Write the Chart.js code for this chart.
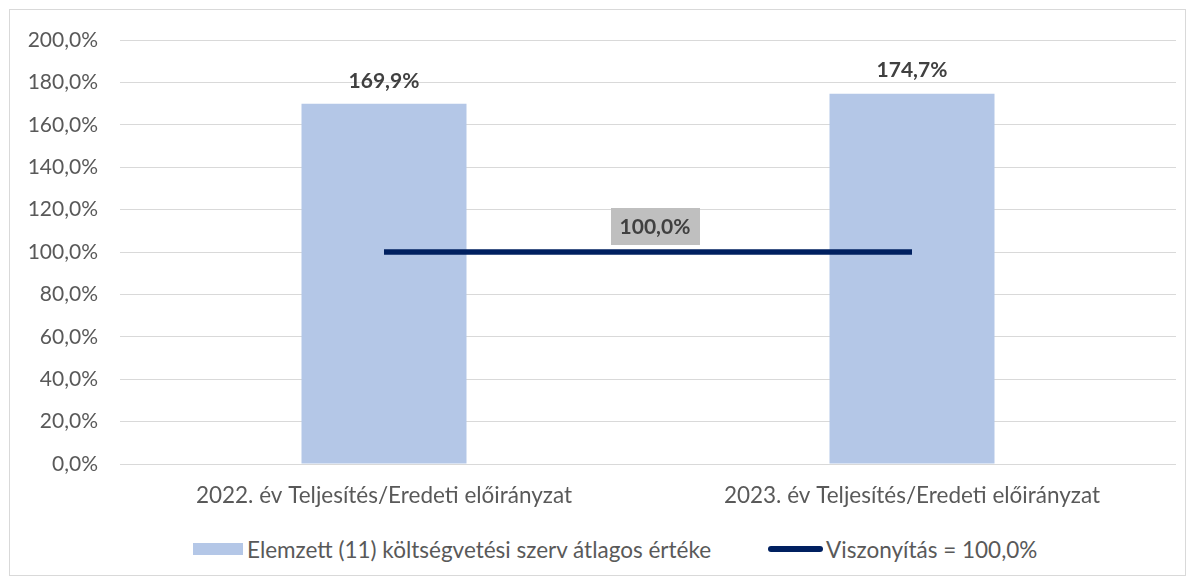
<!DOCTYPE html>
<html lang="hu">
<head>
<meta charset="UTF-8">
<title>Teljesítés / Eredeti előirányzat</title>
<script src="https://cdn.jsdelivr.net/npm/chart.js@4"></script>
<style>
  body { margin: 0; background: #fff; font-family: Lato, sans-serif; }
  /* külső keret, mint az Excel diagramterület */
  .keret {
    position: absolute; left: 9px; top: 9px;
    width: 1177px; height: 567px;
    border: 1px solid #D9D9D9; box-sizing: border-box;
  }
  .rajz { position: absolute; left: 0; top: 0; width: 1175px; height: 520px; }
  /* jelmagyarázat alul */
  .jelmagyarazat {
    position: absolute; left: 183px; top: 528px; height: 22px;
    display: flex; align-items: center;
    font-size: 22.5px; color: #595959; white-space: nowrap;
  }
  .doboz { width: 50px; height: 12px; background: #B4C7E7; margin-right: 4px; }
  .vonal { width: 55px; height: 6px; background: #002060; border-radius: 3px; margin-left: 57px; margin-right: 3px; }
</style>
</head>
<body>
<div class="keret">
  <div class="rajz"><canvas id="diagram"></canvas></div>
  <div class="jelmagyarazat">
    <span class="doboz"></span><span id="felirat0"></span>
    <span class="vonal"></span><span id="felirat1"></span>
  </div>
</div>

<script>
// Adatok
const kategoriak = ['2022. év Teljesítés/Eredeti előirányzat', '2023. év Teljesítés/Eredeti előirányzat'];
const atlagErtekek = [169.9, 174.7];
const viszonyitas = [100, 100];
const sorozatNevek = ['Elemzett (11) költségvetési szerv átlagos értéke', 'Viszonyítás = 100,0%'];
const yMin = 0, yMax = 200, yLepes = 20;

const BETU = 'Lato, sans-serif';
const szurke = '#595959';

document.getElementById('felirat0').textContent = sorozatNevek[0];
document.getElementById('felirat1').textContent = sorozatNevek[1];

function szazalek(v) {
  return v.toFixed(1).replace('.', ',') + '%';
}

// Adatcímkék kirajzolása
const cimkek = {
  id: 'cimkek',
  afterDatasetsDraw(chart) {
    const ctx = chart.ctx;
    ctx.save();
    ctx.font = 'bold 21px ' + BETU;
    ctx.textAlign = 'center';
    ctx.textBaseline = 'middle';

    // oszlopok felett
    ctx.fillStyle = '#404040';
    chart.getDatasetMeta(0).data.forEach((oszlop, i) => {
      ctx.fillText(szazalek(atlagErtekek[i]), oszlop.x, oszlop.y - 23);
    });

    // viszonyítási vonal címkéje szürke háttérrel
    const pontok = chart.getDatasetMeta(1).data;
    const kx = (pontok[0].x + pontok[pontok.length - 1].x) / 2 + 7;
    const ky = pontok[0].y - 8 - 18;
    ctx.fillStyle = '#BFBFBF';
    ctx.fillRect(kx - 44, ky - 18, 89, 37);
    ctx.fillStyle = '#404040';
    ctx.fillText(szazalek(viszonyitas[0]), kx, ky + 1);
    ctx.restore();
  }
};

new Chart(document.getElementById('diagram'), {
  data: {
    labels: kategoriak,
    datasets: [
      {
        type: 'bar',
        label: sorozatNevek[0],
        data: atlagErtekek,
        backgroundColor: '#B4C7E7',
        categoryPercentage: 1,
        barPercentage: 0.3125,
        order: 2
      },
      {
        type: 'line',
        label: sorozatNevek[1],
        data: viszonyitas,
        borderColor: '#002060',
        borderWidth: 5.5,
        pointRadius: 0,
        fill: false,
        order: 1
      }
    ]
  },
  options: {
    responsive: true,
    maintainAspectRatio: false,
    animation: false,
    layout: { padding: { top: 30, right: 9, bottom: 0, left: 0 } },
    plugins: {
      legend: { display: false },
      tooltip: { enabled: false }
    },
    scales: {
      x: {
        grid: { display: false },
        border: { display: false },
        ticks: {
          color: szurke,
          font: { family: BETU, size: 22.5 },
          padding: 10
        },
        afterFit: s => {
          s.height = 66;
          s.paddingTop = 0; s.paddingBottom = 0; s.paddingLeft = 0; s.paddingRight = 0;
        }
      },
      y: {
        min: yMin,
        max: yMax,
        grid: { color: '#D9D9D9', drawTicks: false },
        border: { display: false },
        ticks: {
          stepSize: yLepes,
          color: szurke,
          font: { family: BETU, size: 21 },
          padding: 22,
          callback: v => szazalek(v)
        },
        afterFit: s => {
          s.width = 110;
          s.paddingTop = 0; s.paddingBottom = 0;
        }
      }
    }
  },
  plugins: [cimkek]
});
</script>
</body>
</html>
